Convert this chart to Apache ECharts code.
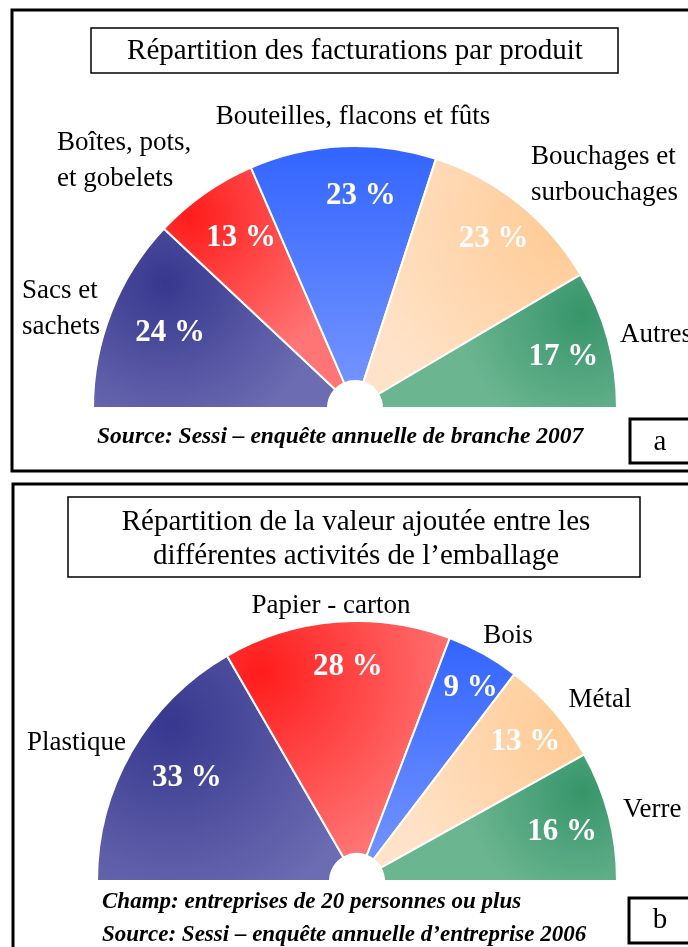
<!DOCTYPE html>
<html>
<head>
<meta charset="utf-8">
<script src="https://cdn.jsdelivr.net/npm/echarts@6/dist/echarts.min.js"></script>
<style>
  html, body { margin: 0; padding: 0; background: #fff; }
  #chart { width: 688px; height: 947px; }
</style>
</head>
<body>
<div id="chart"></div>
<script>
// (a) Répartition des facturations par produit
const produitNoms = ['Sacs et\nsachets', 'Boîtes, pots,\net gobelets', 'Bouteilles, flacons et fûts', 'Bouchages et\nsurbouchages', 'Autres']
const produitParts = [24, 13, 23, 23, 17]

// (b) Répartition de la valeur ajoutée entre les activités
const activiteNoms = ['Plastique', 'Papier - carton', 'Bois', 'Métal', 'Verre']
const activiteParts = [33, 28, 9, 13, 16]

// where the category names sit: [x, y, align]
const nomsPosA = [[22, 309, 'left'], [57, 161, 'left'], [353, 117, 'center'], [531, 175, 'left'], [620, 335, 'left']]
const nomsPosB = [[27, 743, 'left'], [331, 606, 'center'], [508, 636, 'center'], [600, 700, 'center'], [623, 810, 'left']]
// small nudges of the percentages off the slice middle: [dx, dy]
const pctShiftA = [[17, 5], [11, 8], [16, 5], [3, 0], [-1, 6]]
const pctShiftB = [[16, 4], [8, 0], [9, -5], [6, 2], [-3, 5]]

const serif = '"Liberation Serif", "Times New Roman", serif'

function radial(x, y, r, c0, c1) {
  return { type: 'radial', x: x, y: y, r: r, colorStops: [{ offset: 0, color: c0 }, { offset: 1, color: c1 }] }
}
// purple, red, blue, peach, green
const fills = [
  radial(0.3, 0.3, 0.9, '#37378f', '#6c6cb2'),
  radial(0.15, 0.22, 0.9, '#ff1c1c', '#ff7474'),
  { type: 'linear', x: 0, y: 0, x2: 0, y2: 1, colorStops: [{ offset: 0, color: '#3264ff' }, { offset: 1, color: '#7393ff' }] },
  radial(0.95, 0.28, 1.0, '#ffc992', '#ffe3c9'),
  radial(0.85, 0.3, 0.9, '#37956a', '#6bb591')
]

function pieSeries(names, values, cx, cy, r, pos, shift) {
  const base = {
    type: 'pie',
    center: [cx, cy],
    startAngle: 180,
    endAngle: 0,
    clockwise: true,
    avoidLabelOverlap: false,
    animation: false,
    emphasis: { disabled: true },
    labelLine: { show: false }
  }
  const ghost = values.map((v, i) => ({ name: names[i], value: v }))
  return [
    {
      ...base,
      radius: [27, r],
      itemStyle: { borderColor: '#fff', borderWidth: 2 },
      label: { show: false },
      data: values.map((v, i) => ({ name: names[i], value: v, itemStyle: { color: fills[i] } }))
    },
    {
      // percentages inside the slices
      ...base,
      silent: true,
      radius: [r - 98, r + 2],
      itemStyle: { color: 'rgba(0,0,0,0)' },
      label: {
        show: true, position: 'inside', formatter: '{c} %',
        color: '#fff', fontFamily: serif, fontWeight: 'bold', fontSize: 31
      },
      labelLayout: p => ({ dx: shift[p.dataIndex][0], dy: shift[p.dataIndex][1] }),
      data: ghost
    },
    {
      // category names around the arc
      ...base,
      silent: true,
      radius: [27, r],
      itemStyle: { color: 'rgba(0,0,0,0)' },
      label: {
        show: true, position: 'outside', formatter: '{b}',
        color: '#000', fontFamily: serif, fontSize: 27, lineHeight: 36
      },
      labelLayout: p => ({ x: pos[p.dataIndex][0], y: pos[p.dataIndex][1], align: pos[p.dataIndex][2], verticalAlign: 'middle' }),
      data: ghost
    }
  ]
}

function box(x, y, w, h, lw) {
  return { type: 'rect', shape: { x: x, y: y, width: w, height: h }, style: { fill: 'none', stroke: '#000', lineWidth: lw } }
}
function txt(t, x, y, font, align) {
  return { type: 'text', style: { text: t, x: x, y: y, font: font, fill: '#000', align: align, textAlign: align, verticalAlign: 'middle', textVerticalAlign: 'middle' } }
}

const chart = echarts.init(document.getElementById('chart'))
chart.setOption({
  backgroundColor: '#fff',
  graphic: [
    box(12, 10, 700, 461, 3),
    box(91, 28, 527, 45, 1.5),
    txt('Répartition des facturations par produit', 355, 51, '29px ' + serif, 'center'),
    txt('Source: Sessi – enquête annuelle de branche 2007', 97, 437, 'italic bold 23.5px ' + serif, 'left'),
    box(630, 419, 100, 44, 3),
    txt('a', 660, 442, '29px ' + serif, 'center'),

    box(13, 484, 700, 500, 3),
    box(68, 497, 572, 80, 1.5),
    txt('Répartition de la valeur ajoutée entre les', 356, 522, '29px ' + serif, 'center'),
    txt('différentes activités de l’emballage', 356, 556, '29px ' + serif, 'center'),
    txt('Champ: entreprises de 20 personnes ou plus', 102, 902, 'italic bold 23px ' + serif, 'left'),
    txt('Source: Sessi – enquête annuelle d’entreprise 2006', 102, 935, 'italic bold 23px ' + serif, 'left'),
    box(629, 898, 100, 45, 3),
    txt('b', 660, 920, '29px ' + serif, 'center')
  ],
  series: [
    ...pieSeries(produitNoms, produitParts, 355, 408, 262, nomsPosA, pctShiftA),
    ...pieSeries(activiteNoms, activiteParts, 357, 881, 260, nomsPosB, pctShiftB)
  ]
})
</script>
</body>
</html>
